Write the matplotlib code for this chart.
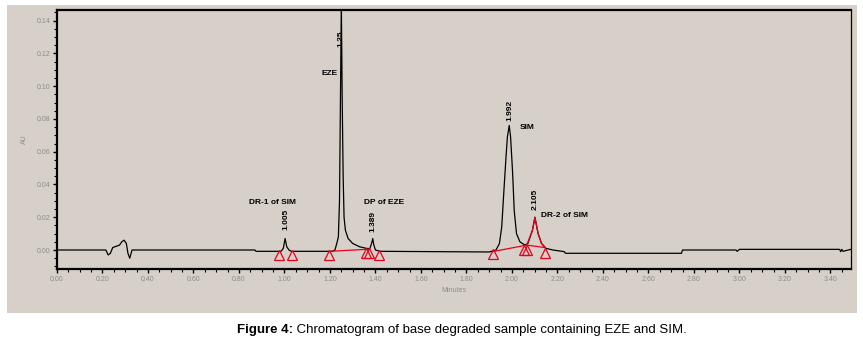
import matplotlib
matplotlib.use('Agg')
import matplotlib.pyplot as plt
from matplotlib.patches import Rectangle
from matplotlib.ticker import MultipleLocator

plt.rcParams['font.family'] = ['Liberation Sans', 'DejaVu Sans']

# detector trace (minutes, AU)
times = [0.00, 0.215, 0.225, 0.235, 0.245, 0.255, 0.265, 0.275, 0.285, 0.295, 0.305,
         0.312, 0.32, 0.33, 0.87, 0.875, 0.985, 0.995, 1.003, 1.01, 1.02, 1.03,
         1.21, 1.222, 1.230, 1.237, 1.242, 1.246, 1.250, 1.254, 1.258, 1.262, 1.268,
         1.28, 1.30, 1.33, 1.36, 1.375, 1.383, 1.388, 1.393, 1.40, 1.42,
         1.90, 1.93, 1.945, 1.955, 1.965, 1.974, 1.980, 1.988, 1.994, 2.003, 2.010, 2.020,
         2.035, 2.057, 2.070, 2.090, 2.101, 2.115, 2.13, 2.15, 2.18, 2.23, 2.235,
         2.745, 2.75, 2.985, 2.99, 3.0, 3.44, 3.445, 3.45, 3.455, 3.49]
au = [0.0, 0.0, -0.003, -0.002, 0.0015, 0.002, 0.0025, 0.003, 0.005, 0.006, 0.004,
      -0.002, -0.005, 0.0, 0.0, -0.0008, -0.0008, 0.001, 0.007, 0.002, 0.0, -0.0008,
      -0.0008, 0.0, 0.004, 0.008, 0.03, 0.09, 0.15, 0.09, 0.045, 0.02, 0.012,
      0.007, 0.004, 0.002, 0.001, 0.0008, 0.004, 0.007, 0.003, 0.0, -0.0008,
      -0.0012, 0.0, 0.004, 0.014, 0.037, 0.057, 0.069, 0.076, 0.069, 0.047, 0.024, 0.010,
      0.005, 0.003, 0.004, 0.012, 0.020, 0.010, 0.004, 0.001, 0.0, -0.001, -0.002,
      -0.002, 0.0, 0.0, -0.0008, 0.0004, 0.0004, -0.001, 0.0004, -0.0008, 0.0004]

# integrated DR-2 peak (red)
dr2_t = [2.065, 2.09, 2.101, 2.115, 2.13, 2.145]
dr2_au = [0.003, 0.012, 0.020, 0.010, 0.004, 0.0015]

# drawn baselines (red)
base_segments = [([1.198, 1.375], [-0.0008, 0.0005]),
                 ([1.915, 2.065], [-0.001, 0.003]),
                 ([2.065, 2.145], [0.003, 0.0015])]

# peak start / end markers
tri_t = [0.978, 1.034, 1.198, 1.36, 1.37, 1.414, 1.915, 2.055, 2.065, 2.145]
tri_au = [-0.003, -0.003, -0.003, -0.002, -0.002, -0.003, -0.0025, 0.0, 0.0, -0.002]

# retention time labels
rt_labels = ['1.005', '1.25', '1.389', '1.992', '2.105']
rt_x = [1.005, 1.250, 1.388, 1.991, 2.101]
rt_y = [0.012, 0.124, 0.011, 0.079, 0.0245]

# peak names
names = ['DR-1 of SIM', 'EZE', 'DP of EZE', 'SIM', 'DR-2 of SIM']
name_x = [0.947, 1.198, 1.44, 2.035, 2.128]
name_y = [0.0287, 0.1076, 0.0287, 0.075, 0.0208]
name_ha = ['center', 'center', 'center', 'left', 'left']

bg = '#d6d0c8'
fig = plt.figure(figsize=(8.63, 3.5), dpi=100)
panel = Rectangle((0.0081, 0.1057), 0.985, 0.88, transform=fig.transFigure,
                  facecolor=bg, edgecolor='none', zorder=-5)
fig.add_artist(panel)
ax = fig.add_axes([0.066, 0.2314, 0.920, 0.74])
ax.set_facecolor(bg)

ax.plot(times, au, color='black', lw=0.9, zorder=3)
ax.plot(dr2_t, dr2_au, color='#e8001c', lw=0.9, zorder=4)
for bt, ba in base_segments:
    ax.plot(bt, ba, color='#e8001c', lw=0.9, zorder=4)
ax.plot(tri_t, tri_au, linestyle='none', marker='^', ms=6.5, mfc='none',
        mec='#e8001c', mew=0.9, zorder=5)

for lab, x, y in zip(rt_labels, rt_x, rt_y):
    ax.text(x, y, lab, rotation=90, ha='center', va='bottom', fontsize=6,
            fontweight='bold', zorder=6)
for lab, x, y, ha in zip(names, name_x, name_y, name_ha):
    ax.text(x, y, lab, ha=ha, va='center', fontsize=6, fontweight='bold', zorder=6)

ax.set_xlim(0, 3.49)
ax.set_ylim(-0.0116, 0.1465)
ax.xaxis.set_major_locator(MultipleLocator(0.2))
ax.xaxis.set_minor_locator(MultipleLocator(0.05))
ax.yaxis.set_major_locator(MultipleLocator(0.02))
ax.yaxis.set_minor_locator(MultipleLocator(0.005))
ax.xaxis.set_major_formatter(plt.FuncFormatter(lambda v, p: f'{v:.2f}'))
ax.yaxis.set_major_formatter(plt.FuncFormatter(lambda v, p: f'{v:.2f}'))
ax.tick_params(which='major', direction='out', length=3, width=1, labelsize=5,
               labelcolor='#8c8c8c', pad=2)
ax.tick_params(which='minor', direction='out', length=2, width=0.8)
for side in ['left', 'top', 'bottom']:
    ax.spines[side].set_linewidth(1.6)
ax.spines['right'].set_linewidth(0.9)

ax.set_xlabel('Minutes', fontsize=5, color='#8c8c8c', labelpad=3)
ax.set_ylabel('AU', fontsize=5, color='#8c8c8c', labelpad=6)

fig.text(0.34, 0.057, 'Figure 4:', fontsize=9.5, fontweight='bold', ha='right', va='center')
fig.text(0.34, 0.057, ' Chromatogram of base degraded sample containing EZE and SIM.',
         fontsize=9.5, ha='left', va='center')

fig.savefig('out.png', dpi=100)
